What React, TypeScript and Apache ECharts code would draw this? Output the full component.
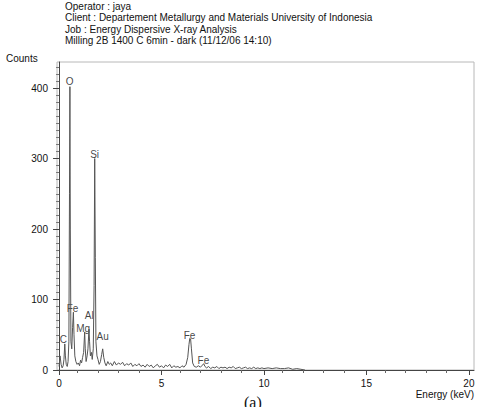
import React, { useEffect, useRef } from "react";
import * as echarts from "echarts";

const headerLines = [
  "Operator : jaya",
  "Client : Departement Metallurgy and Materials University of Indonesia",
  "Job : Energy Dispersive X-ray Analysis",
  "Milling 2B 1400 C 6min - dark (11/12/06 14:10)",
];

const energy = [
  0.0, 0.05, 0.1, 0.15, 0.2, 0.24, 0.28, 0.31, 0.35, 0.4, 0.44, 0.48, 0.51, 0.53, 0.55, 0.58, 0.62, 0.66, 0.7, 0.73,
  0.77, 0.82, 0.88, 0.94, 1.0, 1.05, 1.1, 1.15, 1.2, 1.25, 1.28, 1.32, 1.37, 1.41, 1.46, 1.49, 1.53, 1.58, 1.62, 1.67,
  1.71, 1.74, 1.77, 1.8, 1.85, 1.9, 1.96, 2.02, 2.08, 2.13, 2.18, 2.24, 2.3, 2.38, 2.45, 2.52, 2.6, 2.7, 2.8, 2.9,
  3.0, 3.1, 3.2, 3.3, 3.4, 3.5, 3.6, 3.7, 3.8, 3.9, 4.0, 4.1, 4.2, 4.3, 4.4, 4.5, 4.6, 4.7, 4.8, 4.9,
  5.0, 5.1, 5.2, 5.3, 5.4, 5.5, 5.6, 5.7, 5.8, 5.9, 6.0, 6.1, 6.2, 6.28, 6.34, 6.38, 6.42, 6.46, 6.52, 6.6,
  6.7, 6.8, 6.9, 7.0, 7.06, 7.12, 7.2, 7.3, 7.4, 7.5, 7.6, 7.7, 7.8, 7.9, 8.0, 8.1, 8.2, 8.3, 8.4, 8.5,
  8.6, 8.7, 8.8, 8.9, 9.0, 9.1, 9.2, 9.3, 9.4, 9.5, 9.6, 9.7, 9.8, 9.9, 10.0, 10.2, 10.4, 10.6, 10.8, 11.0,
  11.2, 11.4, 11.6, 11.8, 12.0,
];

const counts = [
  5, 20, 8, 3, 6, 15, 37, 20, 8, 5, 12, 40, 250, 402, 200, 40, 30, 60, 82, 50,
  20, 12, 8, 10, 6, 14, 10, 18, 25, 54, 30, 12, 20, 30, 58, 40, 20, 25, 15, 30,
  120, 300, 160, 40, 20, 15, 8, 12, 22, 30, 18, 10, 6, 12, 8, 10, 6, 12, 7, 10,
  8, 11, 6, 9, 7, 10, 5, 8, 6, 9, 5, 7, 4, 8, 5, 7, 3, 6, 8, 4,
  6, 3, 7, 5, 8, 3, 6, 4, 5, 3, 6, 4, 8, 18, 36, 45, 44, 30, 10, 5,
  4, 6, 4, 7, 9, 5, 3, 5, 2, 4, 3, 5, 2, 4, 3, 4, 2, 4, 3, 5,
  2, 3, 4, 2, 3, 4, 2, 3, 2, 4, 2, 3, 2, 3, 2, 3, 2, 3, 2, 2,
  3, 1, 2, 1, 0,
];

const peakNames = ["O", "Si", "Fe", "Al", "Mg", "C", "Au", "Fe", "Fe"];
const peakEnergy = [0.54, 1.76, 0.68, 1.5, 1.2, 0.24, 2.15, 6.39, 7.07];
const peakLabelCount = [408, 305, 87, 77, 58, 43, 47, 48, 13];

const yTicks = [0, 100, 200, 300, 400];
const xTicks = [0, 5, 10, 15, 20];

export default function App() {
  const ref = useRef<HTMLDivElement>(null);
  useEffect(() => {
    if (!ref.current) return;
    const chart = echarts.init(ref.current, undefined, { renderer: "svg" });
    const font = "Liberation Sans, Arial, sans-serif";
    chart.setOption({
      animation: false,
      backgroundColor: "#ffffff",
      textStyle: { fontFamily: font },
      grid: {
        left: 57,
        right: 7,
        top: 62,
        bottom: 37,
        show: true,
        borderColor: "#b8b8b8",
        borderWidth: 1,
        backgroundColor: "transparent",
      },
      graphic: [
        ...headerLines.map((t, i) => ({
          type: "text",
          left: 65,
          top: 1 + i * 11.5,
          style: { text: t, fontSize: 10, fontFamily: font, fill: "#111" },
        })),
        {
          type: "text",
          left: 6,
          top: 53,
          style: { text: "Counts", fontSize: 10, fontFamily: font, fill: "#111" },
        },
        {
          type: "text",
          right: 7,
          top: 389,
          style: { text: "Energy (keV)", fontSize: 10, fontFamily: font, fill: "#111" },
        },
        {
          type: "text",
          left: 244,
          top: 394,
          style: { text: "(a)", fontSize: 16, fontFamily: "Liberation Serif, serif", fill: "#111" },
        },
      ],
      xAxis: {
        type: "value",
        min: -0.1,
        max: 20.25,
        interval: 5,
        axisLine: { show: true, onZero: false, lineStyle: { color: "#444", width: 1 } },
        axisTick: {
          show: true,
          length: 5,
          lineStyle: { color: "#444" },
          customValues: xTicks,
        },
        minorTick: { show: true, splitNumber: 5, length: 3, lineStyle: { color: "#666" } },
        axisLabel: {
          customValues: xTicks,
          fontSize: 10,
          color: "#111",
          margin: 8,
          fontFamily: font,
          showMinLabel: true,
          showMaxLabel: true,
        },
        splitLine: { show: false },
      },
      yAxis: {
        type: "value",
        min: 0,
        max: 437,
        interval: 100,
        axisLine: { show: true, lineStyle: { color: "#444", width: 1 } },
        axisTick: { show: true, length: 6, lineStyle: { color: "#444" }, customValues: yTicks },
        minorTick: { show: true, splitNumber: 10, length: 3, lineStyle: { color: "#777" } },
        axisLabel: { customValues: yTicks, fontSize: 10, color: "#111", margin: 9, fontFamily: font },
        splitLine: { show: false },
      },
      series: [
        {
          type: "line",
          data: energy.map((e, i) => [e, counts[i]]),
          showSymbol: false,
          symbol: "none",
          lineStyle: { color: "#555", width: 1 },
          clip: true,
        },
        {
          type: "scatter",
          symbolSize: 1,
          itemStyle: { color: "rgba(0,0,0,0)" },
          data: peakNames.map((n, i) => ({ name: n, value: [peakEnergy[i], peakLabelCount[i]] })),
          label: {
            show: true,
            position: [0, 0],
            align: "center",
            verticalAlign: "middle",
            formatter: (p: any) => p.name,
            fontSize: 10,
            color: "#111",
            fontFamily: font,
          },
          silent: true,
        },
      ],
    });
    return () => chart.dispose();
  }, []);
  return <div ref={ref} style={{ width: 481, height: 407, position: "fixed", left: 0, top: 0 }} />;
}
